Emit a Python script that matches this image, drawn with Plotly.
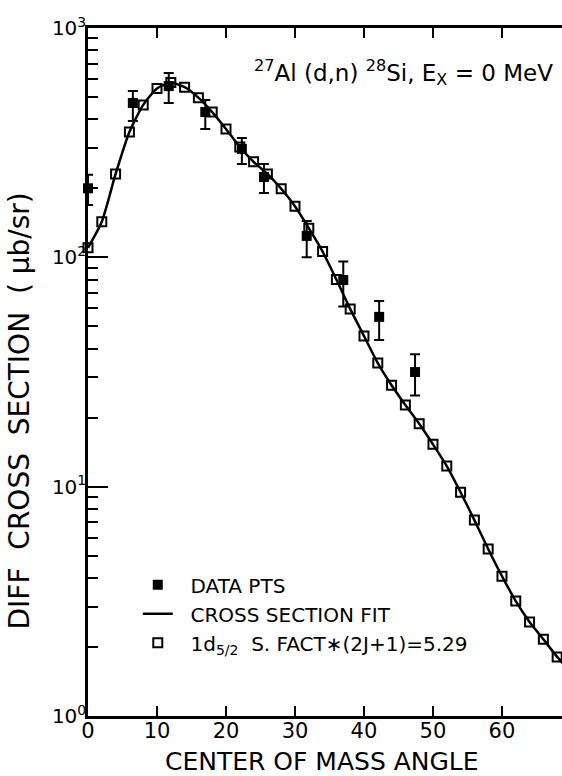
import plotly.graph_objects as go

# ---- data ----
model_angle = [0, 2, 4, 6, 8, 10, 12, 14, 16, 18, 20, 22, 24, 26, 28, 30, 32, 34,
               36, 38, 40, 42, 44, 46, 48, 50, 52, 54, 56, 58, 60, 62, 64, 66, 68]
model_xsec = [110, 143, 231, 352, 462, 545, 578, 552, 497, 430, 363, 303, 261, 231,
              199, 167, 134, 106, 80, 59.6, 45.4, 34.6, 27.7, 22.7, 18.8, 15.3,
              12.3, 9.46, 7.15, 5.35, 4.07, 3.17, 2.57, 2.16, 1.81]

fit_angle = model_angle + [70]
fit_xsec = model_xsec + [1.55]

data_angle = [0, 6.5, 11.7, 17, 22.3, 25.5, 31.7, 37, 42.2, 47.4]
data_xsec = [200, 471, 558, 430, 297, 224, 124, 79.6, 55, 31.6]
data_hi = [229, 531, 636, 485, 331, 255, 144, 96, 64.5, 37.8]
data_lo = [169, 393, 471, 363, 255, 191, 100, 61, 43.6, 25]

x_ticks = [0, 10, 20, 30, 40, 50, 60]
y_ticks = [1, 10, 100, 1000]
y_ticktext = ["10<sup>0</sup>", "10<sup>1</sup>", "10<sup>2</sup>", "10<sup>3</sup>"]
y_minor = [m * d for d in (1, 10, 100) for m in range(2, 10)]

FONT = "DejaVu Sans"
PAD = "\u00a0\u00a0"

err_plus = [h - v for h, v in zip(data_hi, data_xsec)]
err_minus = [v - l for v, l in zip(data_xsec, data_lo)]

fig = go.Figure()
fig.add_trace(go.Scatter(
    x=fit_angle, y=fit_xsec, mode="lines", name=PAD + "CROSS SECTION FIT",
    line=dict(color="black", width=2.5, shape="spline", smoothing=0.6),
    legendrank=2, cliponaxis=True))
fig.add_trace(go.Scatter(
    x=model_angle, y=model_xsec, mode="markers",
    name=PAD + "1d<sub>5/2</sub>  S. FACT\u2217(2J+1)=5.29",
    marker=dict(symbol="square-open", size=9, color="black", line=dict(width=2, color="black")),
    legendrank=3, cliponaxis=False))
fig.add_trace(go.Scatter(
    x=data_angle, y=data_xsec, mode="markers", name=PAD + "DATA PTS",
    marker=dict(symbol="square", size=10, color="black"),
    error_y=dict(type="data", array=err_plus, arrayminus=err_minus, symmetric=False,
                 color="black", thickness=2, width=5),
    legendrank=1, cliponaxis=False))

fig.update_layout(
    width=562, height=776,
    margin=dict(l=88, r=0, t=28, b=60),
    paper_bgcolor="white", plot_bgcolor="white",
    font=dict(family=FONT, color="black", size=20),
    showlegend=True,
    legend=dict(x=0.105, y=0.219, xanchor="left", yanchor="top",
                bgcolor="rgba(0,0,0,0)", borderwidth=0,
                font=dict(family=FONT, size=20, color="black"),
                tracegroupgap=0),
    xaxis=dict(range=[0, 68.7], tickvals=x_ticks, ticks="inside", ticklen=10,
               tickwidth=2, tickcolor="black", showline=True, linewidth=2.5,
               linecolor="black", mirror="ticks", showgrid=False, zeroline=False,
               ticklabelstandoff=-6,
               tickfont=dict(family=FONT, size=21, color="black")),
    yaxis=dict(type="log", range=[0, 3], tickvals=y_ticks, ticktext=y_ticktext,
               ticks="inside", ticklen=20, tickwidth=2, tickcolor="black",
               showline=True, linewidth=2.5, linecolor="black", mirror=False,
               showgrid=False, zeroline=False, ticklabelstandoff=-5,
               minor=dict(tickvals=y_minor, ticks="inside", ticklen=10,
                          tickwidth=2, tickcolor="black", showgrid=False),
               tickfont=dict(family=FONT, size=20, color="black")),
    annotations=[
        dict(text="<sup>27</sup>Al (d,n) <sup>28</sup>Si, E<sub>X</sub> = 0 MeV",
             xref="paper", yref="paper", x=0.985, y=0.936, xanchor="right",
             yanchor="middle", showarrow=False,
             font=dict(family=FONT, size=23, color="black")),
        dict(text="DIFF  CROSS  SECTION  ( \u03bcb/sr)", textangle=-90,
             xref="paper", yref="paper", x=-0.145, y=0.443, xanchor="center",
             yanchor="middle", showarrow=False,
             font=dict(family=FONT, size=28, color="black")),
        dict(text="CENTER OF MASS ANGLE",
             xref="paper", yref="paper", x=0.494, y=-0.066, xanchor="center",
             yanchor="middle", showarrow=False,
             font=dict(family=FONT, size=25, color="black")),
    ],
)

fig.write_html("out.html")
